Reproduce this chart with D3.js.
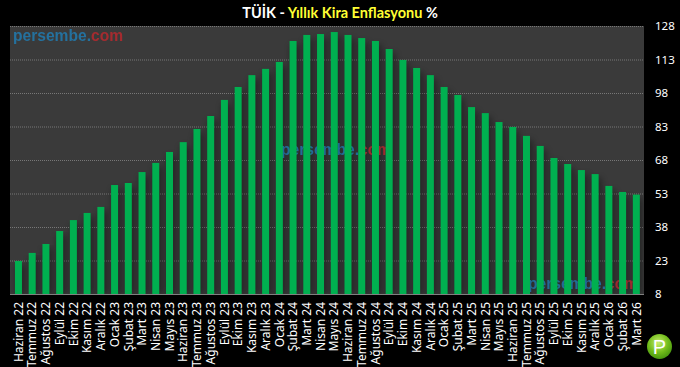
<!DOCTYPE html>
<html>
<head>
<meta charset="utf-8">
<script src="https://cdn.jsdelivr.net/npm/d3@7"></script>
<style>
    html, body { margin: 0; padding: 0; background: #000; overflow: hidden; }
    text { font-family: "Noto Sans", sans-serif; }
</style>
</head>
<body>
<svg id="chart"></svg>
<script>
const months = [
    "Haziran 22", "Temmuz 22", "Ağustos 22", "Eylül 22", "Ekim 22", "Kasım 22", "Aralık 22",
    "Ocak 23", "Şubat 23", "Mart 23", "Nisan 23", "Mayıs 23", "Haziran 23", "Temmuz 23", "Ağustos 23", "Eylül 23", "Ekim 23", "Kasım 23", "Aralık 23",
    "Ocak 24", "Şubat 24", "Mart 24", "Nisan 24", "Mayıs 24", "Haziran 24", "Temmuz 24", "Ağustos 24", "Eylül 24", "Ekim 24", "Kasım 24", "Aralık 24",
    "Ocak 25", "Şubat 25", "Mart 25", "Nisan 25", "Mayıs 25", "Haziran 25", "Temmuz 25", "Ağustos 25", "Eylül 25", "Ekim 25", "Kasım 25", "Aralık 25",
    "Ocak 26", "Şubat 26", "Mart 26"
];
const rentInflation = [
    22.8, 26.4, 30.4, 36.2, 41.1, 44.3, 47.0,
    56.8, 57.7, 62.6, 66.7, 71.6, 76.0, 81.9, 87.7, 94.9, 100.7, 106.0, 108.8,
    111.9, 121.3, 124.0, 124.4, 125.3, 124.0, 122.6, 121.3, 117.7, 112.8, 109.2, 106.0,
    100.7, 97.1, 91.7, 89.0, 85.0, 82.8, 78.8, 74.3, 68.9, 66.2, 63.5, 61.7,
    56.4, 53.7, 52.5
];
const yTicks = [8, 23, 38, 53, 68, 83, 98, 113, 128];

const width = 680, height = 367;
const plot = { left: 10, right: 644, top: 26, bottom: 294 };

const svg = d3.select("#chart")
    .attr("width", width)
    .attr("height", height)
    .style("display", "block");

const defs = svg.append("defs");

const x = d3.scaleBand()
    .domain(months)
    .range([11.6, 643.2])
    .paddingInner(0.49)
    .paddingOuter(0.245);

const y = d3.scaleLinear()
    .domain([8, 128])
    .range([plot.bottom, plot.top]);

// Plot background
svg.append("rect")
    .attr("x", plot.left)
    .attr("y", plot.top)
    .attr("width", plot.right - plot.left)
    .attr("height", plot.bottom - plot.top)
    .attr("fill", "#3a3a3a");

// Grid
svg.append("g")
    .selectAll("line")
    .data(yTicks)
    .enter()
    .append("line")
    .attr("x1", plot.left)
    .attr("x2", plot.right)
    .attr("y1", d => y(d) + 0.5)
    .attr("y2", d => y(d) + 0.5)
    .attr("stroke", "#777")
    .attr("stroke-dasharray", "1,1");

// Soft shadow around the bars
defs.append("filter")
    .attr("id", "barShadow")
    .attr("x", "-150%")
    .attr("width", "400%")
    .attr("y", "-5%")
    .attr("height", "110%")
    .append("feGaussianBlur")
    .attr("stdDeviation", 3);

defs.append("clipPath")
    .attr("id", "plotClip")
    .append("rect")
    .attr("x", plot.left)
    .attr("y", plot.top)
    .attr("width", plot.right - plot.left)
    .attr("height", plot.bottom - plot.top);

svg.append("g")
    .attr("clip-path", "url(#plotClip)")
    .selectAll("rect")
    .data(rentInflation)
    .enter()
    .append("rect")
    .attr("x", (d, i) => x(months[i]) + 1)
    .attr("y", d => y(d) + 4)
    .attr("width", x.bandwidth() + 2)
    .attr("height", d => plot.bottom - y(d) - 4)
    .attr("fill", "#000")
    .attr("opacity", 0.35)
    .attr("filter", "url(#barShadow)");

// Watermarks under the bars
function watermark(px, py, opacity) {
    const t = svg.append("text")
        .attr("x", px)
        .attr("y", py)
        .attr("font-size", 15.6)
        .attr("font-weight", "bold")
        .attr("opacity", opacity)
        .style("font-family", "'Liberation Sans', sans-serif");
    t.append("tspan").attr("fill", "#1f7fb8").text("persembe.");
    t.append("tspan").attr("fill", "#c0282d").text("com");
}
watermark(13, 41, 0.8);
watermark(281, 155, 0.75);
watermark(528, 289, 0.75);

// Bars
svg.append("g")
    .selectAll("rect")
    .data(rentInflation)
    .enter()
    .append("rect")
    .attr("x", (d, i) => x(months[i]))
    .attr("y", d => y(d))
    .attr("width", x.bandwidth())
    .attr("height", d => plot.bottom - y(d))
    .attr("fill", "#00b050");

// Baseline
svg.append("line")
    .attr("x1", plot.left)
    .attr("x2", plot.right)
    .attr("y1", plot.bottom + 0.5)
    .attr("y2", plot.bottom + 0.5)
    .attr("stroke", "#808080");

// Y axis
const yAxis = svg.append("g")
    .attr("transform", "translate(" + 655 + ",0)")
    .call(d3.axisRight(y).tickValues(yTicks).tickSize(0).tickPadding(0));
yAxis.select(".domain").remove();
yAxis.selectAll("text")
    .attr("fill", "#fff")
    .style("font-size", "11.5px");

// X axis
const xAxis = svg.append("g")
    .attr("transform", "translate(0," + plot.bottom + ")")
    .call(d3.axisBottom(x).tickSize(0));
xAxis.select(".domain").remove();
xAxis.selectAll("text")
    .attr("fill", "#fff")
    .attr("transform", "rotate(-90)")
    .attr("x", -8)
    .attr("y", 0)
    .attr("dy", "0.35em")
    .style("text-anchor", "end")
    .style("font-size", "12px");

// Title
const title = svg.append("text")
    .attr("x", 340)
    .attr("y", 18)
    .attr("text-anchor", "middle")
    .attr("font-size", 14.5)
    .attr("font-weight", "bold")
    .style("font-family", "Lato, sans-serif");
title.append("tspan").attr("fill", "#fff").text("TÜİK - ");
title.append("tspan").attr("fill", "#ffff33").text("Yıllık Kira Enflasyonu ");
title.append("tspan").attr("fill", "#fff").text("%");

// Logo
const logoGradient = defs.append("radialGradient")
    .attr("id", "logoGradient")
    .attr("cx", "45%")
    .attr("cy", "35%")
    .attr("r", "70%");
logoGradient.append("stop").attr("offset", "0%").attr("stop-color", "#c8ee70");
logoGradient.append("stop").attr("offset", "55%").attr("stop-color", "#74bd1c");
logoGradient.append("stop").attr("offset", "100%").attr("stop-color", "#3f8f0c");
svg.append("circle")
    .attr("cx", 659.5)
    .attr("cy", 346.5)
    .attr("r", 12.5)
    .attr("fill", "url(#logoGradient)");
svg.append("text")
    .attr("x", 659.5)
    .attr("y", 353.5)
    .attr("text-anchor", "middle")
    .attr("font-size", 20)
    .attr("fill", "#fff")
    .style("font-family", "'Liberation Sans', sans-serif")
    .text("P");
</script>
</body>
</html>
